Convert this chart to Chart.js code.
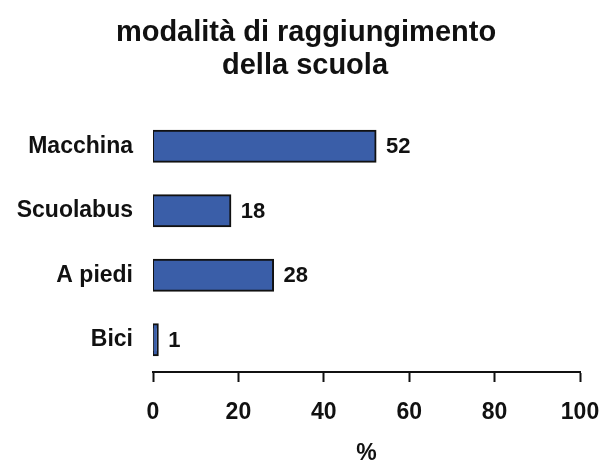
<!DOCTYPE html>
<html>
<head>
<meta charset="utf-8">
<script src="https://cdn.jsdelivr.net/npm/chart.js@4/dist/chart.umd.min.js"></script>
<style>
  html, body { margin: 0; padding: 0; background: #fff; }
  #wrap { width: 603px; height: 461px; }
</style>
</head>
<body>
<div id="wrap"><canvas id="c" width="603" height="461"></canvas></div>
<script>
// data
const categories = ["Macchina", "Scuolabus", "A piedi", "Bici"];
const percentages = [52, 18, 28, 1];
const xTicks = [0, 20, 40, 60, 80, 100];
const titleLines = ["modalità di raggiungimento", "della scuola"];

const FONT = "'Liberation Sans', Arial, Helvetica, sans-serif";

// two-line heading, centred a little right of the canvas middle like the source
const heading = {
  id: "heading",
  afterDraw(chart) {
    const { ctx } = chart;
    ctx.save();
    ctx.font = "bold 29px " + FONT;
    ctx.fillStyle = "#111";
    ctx.textAlign = "center";
    ctx.textBaseline = "alphabetic";
    ctx.fillText(titleLines[0], 306, 41);
    ctx.fillText(titleLines[1], 305, 74);
    ctx.restore();
  },
};

// prints the value just to the right of each bar
const valueLabels = {
  id: "valueLabels",
  afterDatasetsDraw(chart) {
    const { ctx, scales } = chart;
    const meta = chart.getDatasetMeta(0);
    ctx.save();
    ctx.font = "bold 22px " + FONT;
    ctx.fillStyle = "#111";
    ctx.textAlign = "left";
    ctx.textBaseline = "middle";
    meta.data.forEach((bar, i) => {
      const x = scales.x.getPixelForValue(percentages[i]) + 11;
      ctx.fillText(String(percentages[i]), x, bar.y + 1);
    });
    ctx.restore();
  },
};

new Chart(document.getElementById("c"), {
  type: "bar",
  data: {
    labels: categories,
    datasets: [{
      data: percentages,
      backgroundColor: "#3a5ea8",
      borderColor: "#111",
      borderWidth: 2,
      borderSkipped: false,
      barThickness: 30,
      inflateAmount: 1.5, // border sits on the bar edge, not inside it
    }],
  },
  options: {
    indexAxis: "y",
    responsive: false,
    animation: false,
    layout: { padding: { left: 0, right: 23, top: 114, bottom: 0 } },
    plugins: {
      legend: { display: false },
      tooltip: { enabled: false },
      title: { display: false },
    },
    scales: {
      x: {
        min: 0,
        max: 100,
        afterBuildTicks: (axis) => { axis.ticks = xTicks.map((v) => ({ value: v })); },
        afterFit: (scale) => { scale.paddingRight = 23; scale.paddingLeft = 0; },
        grid: { drawOnChartArea: false, drawTicks: true, tickLength: 10, tickWidth: 2, color: "#111" },
        border: { display: true, color: "#111", width: 2 },
        ticks: {
          color: "#111",
          padding: 19,
          maxRotation: 0,
          font: { family: FONT, size: 23, weight: "bold", lineHeight: 1 },
        },
        title: {
          display: true,
          text: "%",
          color: "#111",
          font: { family: FONT, size: 23, weight: "bold", lineHeight: 1 },
          padding: { top: -1, bottom: -4 },
        },
      },
      y: {
        afterFit: (scale) => { scale.width = 153; },
        grid: { display: false, drawTicks: false },
        border: { display: false },
        ticks: {
          color: "#111",
          padding: 20,
          font: { family: FONT, size: 23, weight: "bold" },
        },
      },
    },
  },
  plugins: [valueLabels, heading],
});
</script>
</body>
</html>
